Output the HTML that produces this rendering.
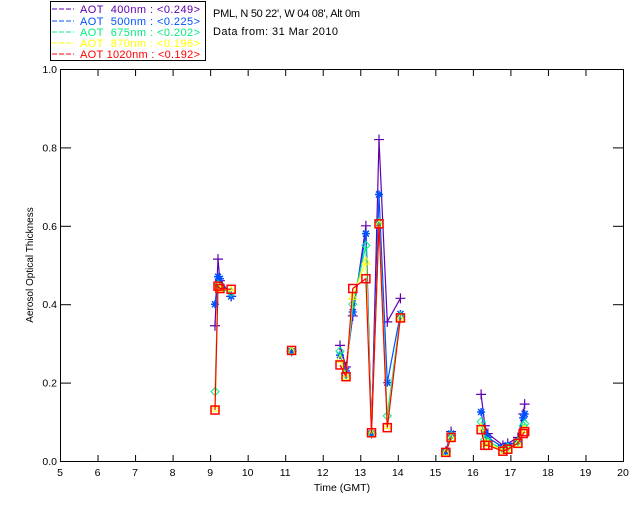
<!DOCTYPE html>
<html><head><meta charset="utf-8"><style>
body{margin:0;background:#fff;width:640px;height:512px;overflow:hidden}
svg{display:block;font-family:"Liberation Sans",sans-serif}
</style></head><body>
<svg id="chart" width="640" height="512" viewBox="0 0 640 512">
<g>
<rect x="50.5" y="1.5" width="155" height="59" fill="none" stroke="#000"/>
<g font-size="11">
<line x1="52" y1="9" x2="74" y2="9" stroke="#6000b0" stroke-dasharray="5,2"/><text x="80" y="13" fill="#6000b0" textLength="120">AOT &#160;400nm : &lt;0.249&gt;</text>
<line x1="52" y1="21" x2="74" y2="21" stroke="#0050ff" stroke-dasharray="5,2"/><text x="80" y="25" fill="#0050ff" textLength="120">AOT &#160;500nm : &lt;0.225&gt;</text>
<line x1="52" y1="32" x2="74" y2="32" stroke="#00ee80" stroke-dasharray="5,2"/><text x="80" y="36" fill="#00ee80" textLength="120">AOT &#160;675nm : &lt;0.202&gt;</text>
<line x1="52" y1="43" x2="74" y2="43" stroke="#ffff00" stroke-dasharray="5,2"/><text x="80" y="47" fill="#ffff00" textLength="120">AOT &#160;870nm : &lt;0.196&gt;</text>
<line x1="52" y1="54" x2="74" y2="54" stroke="#ff0000" stroke-dasharray="5,2"/><text x="80" y="58" fill="#ff0000" textLength="120">AOT 1020nm : &lt;0.192&gt;</text>
</g></g>
<text x="213" y="17" font-size="11" textLength="147">PML, N 50 22', W 04 08', Alt 0m</text>
<text x="213" y="35" font-size="11" textLength="125">Data from: 31 Mar 2010</text>
<rect x="60.5" y="69.5" width="563" height="392" fill="none" stroke="#000"/>
<g id="axes"></g>
<g id="series"></g>
<text x="342" y="491" font-size="10.5" text-anchor="middle">Time (GMT)</text>
<text transform="translate(33,265) rotate(-90)" font-size="10" text-anchor="middle">Aerosol Optical Thickness</text>
</svg>
<script>
const times = [9.13,9.21,9.26,9.56, 11.17, 12.46,12.62,12.8,13.15,13.3,13.5,13.72,14.07, 15.28,15.42, 16.22,16.32,16.4,16.8,16.93,17.2,17.34,17.38];
const segments = [0,0,0,0, 1, 2,2,2,2,2,2,2,2, 3,3, 4,4,4,4,4,4,4,4];
const aot400  = [0.345,0.515,0.46,0.42, 0.28, 0.295,0.24,0.37,0.60,0.07,0.82,0.355,0.415, 0.025,0.075, 0.17,0.09,0.07,0.04,0.045,0.06,0.12,0.145];
const aot500  = [0.40,0.47,0.465,0.42, 0.28, 0.27,0.23,0.38,0.58,0.07,0.68,0.20,0.375, 0.023,0.07, 0.125,0.07,0.06,0.035,0.04,0.05,0.11,0.12];
const aot675  = [0.177,0.45,0.44,0.43, 0.28, 0.28,0.22,0.40,0.55,0.07,0.61,0.115,0.37, 0.022,0.065, 0.10,0.055,0.05,0.03,0.035,0.05,0.09,0.095];
const aot870  = [0.135,0.445,0.44,0.435, 0.28, 0.26,0.215,0.42,0.51,0.07,0.605,0.09,0.365, 0.022,0.06, 0.085,0.045,0.045,0.027,0.03,0.045,0.08,0.08];
const aot1020 = [0.13,0.446,0.44,0.438, 0.282, 0.245,0.215,0.44,0.465,0.072,0.605,0.085,0.365, 0.022,0.06, 0.08,0.04,0.04,0.025,0.03,0.045,0.07,0.075];
const xTicks = [5,6,7,8,9,10,11,12,13,14,15,16,17,18,19,20];
const yTicks = [0.0,0.2,0.4,0.6,0.8,1.0];
const yTickLabels = ["0.0","0.2","0.4","0.6","0.8","1.0"];

const NS="http://www.w3.org/2000/svg";
function X(t){return 60+(t-5)*(563/15);}
function Y(v){return 461-v*392;}
function mk(tag,attrs,parent){const e=document.createElementNS(NS,tag);for(const k in attrs)e.setAttribute(k,attrs[k]);parent.appendChild(e);return e;}
const axes=document.getElementById('axes');
xTicks.forEach(t=>{
  const x=X(t)+0.5;
  const l=mk('line',{x1:x,y1:461,x2:x,y2:455,stroke:'#000'},axes);
  
  
  const l2=mk('line',{x1:x,y1:70,x2:x,y2:76,stroke:'#000'},axes);
  
  
  const tx=mk('text',{x:X(t),y:476,'font-size':'10.5','text-anchor':'middle'},axes);
  tx.textContent=String(t);
  
  
});
yTicks.forEach((v,i)=>{
  const y=Y(v)+0.5;
  const l=mk('line',{x1:60,y1:y,x2:71,y2:y,stroke:'#000'},axes);
  
  
  const l2=mk('line',{x1:613,y1:y,x2:624,y2:y,stroke:'#000'},axes);
  
  
  const tx=mk('text',{x:57,y:Y(v)+4,'font-size':'10.5','text-anchor':'end'},axes);
  tx.textContent=yTickLabels[i];
  
  
});
const series=[
  {name:'400',vals:aot400,color:'#6000b0',m:'plus'},
  {name:'500',vals:aot500,color:'#0050ff',m:'star'},
  {name:'675',vals:aot675,color:'#00ee80',m:'diamond'},
  {name:'870',vals:aot870,color:'#ffff00',m:'tri'},
  {name:'1020',vals:aot1020,color:'#ff0000',m:'square'}];
const sg=document.getElementById('series');
series.forEach(s=>{
  const g=mk('g',{},sg);
  
  
  let d='';
  times.forEach((t,i)=>{
    const cmd=(i===0||segments[i]!==segments[i-1])?'M':'L';
    d+=cmd+X(t).toFixed(1)+','+Y(s.vals[i]).toFixed(1)+' ';
  });
  const p=mk('path',{d:d,fill:'none',stroke:s.color,'stroke-width':1.2},g);
  
  
  times.forEach((t,i)=>{
    const x=X(t),y=Y(s.vals[i]);let e;
    if(s.m==='plus') e=mk('path',{d:`M${x-5},${y}H${x+5}M${x},${y-5}V${y+5}`,stroke:s.color,'stroke-width':1.2,fill:'none'},g);
    else if(s.m==='star') e=mk('path',{d:`M${x-4},${y}H${x+4}M${x},${y-4}V${y+4}M${x-3},${y-3}L${x+3},${y+3}M${x-3},${y+3}L${x+3},${y-3}`,stroke:s.color,'stroke-width':1.5,fill:'none'},g);
    else if(s.m==='diamond') e=mk('path',{d:`M${x},${y-4}L${x+4},${y}L${x},${y+4}L${x-4},${y}Z`,stroke:s.color,'stroke-width':1,fill:'none'},g);
    else if(s.m==='tri') e=mk('path',{d:`M${x},${y-4}L${x+4},${y+3}L${x-4},${y+3}Z`,stroke:s.color,'stroke-width':1,fill:'none'},g);
    else e=mk('rect',{x:x-4,y:y-4,width:8,height:8,stroke:s.color,'stroke-width':1.5,fill:'none'},g);
    
    
  });
});
</script>
</body></html>
